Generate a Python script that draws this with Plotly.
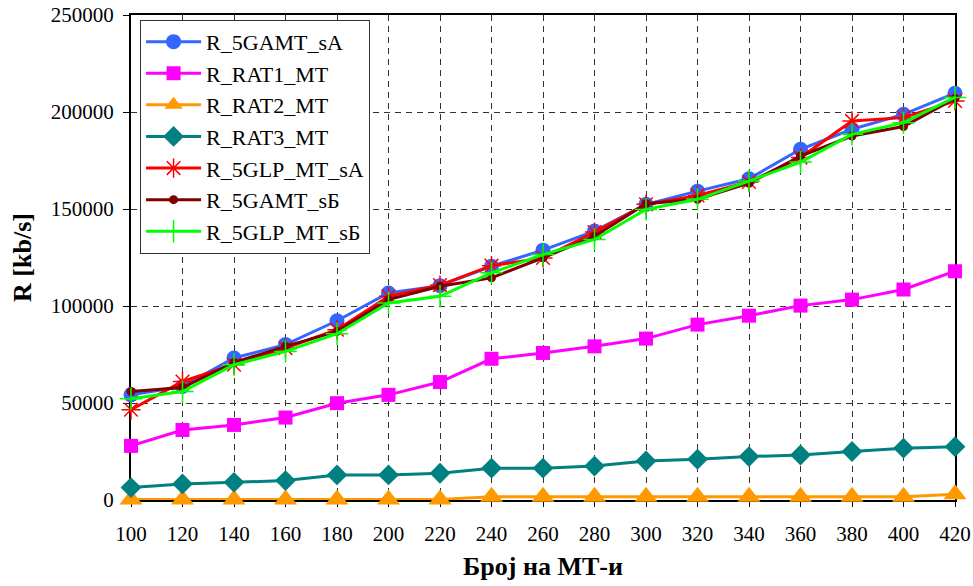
import plotly.graph_objects as go

x_vals = [100, 120, 140, 160, 180, 200, 220, 240, 260, 280, 300, 320, 340, 360, 380, 400, 420]

r_5gamt_sa = [54200, 58500, 73200, 80100, 92400, 106700, 110500, 120500, 128800, 138600,
              152400, 159200, 165600, 180800, 191100, 198800, 209700]
r_rat1_mt = [27900, 36100, 38700, 42500, 49900, 54200, 60800, 72800, 75800, 79200,
             83200, 90400, 95000, 100200, 103300, 108500, 117900]
r_rat2_mt = [300, 300, 300, 300, 300, 300, 300, 1700, 1700, 1700,
             1700, 1700, 1700, 1700, 1700, 1700, 3000]
r_rat3_mt = [6400, 8300, 9100, 10000, 12900, 12900, 13800, 16400, 16400, 17500,
             20100, 21000, 22400, 23200, 25000, 26700, 27500]
r_5glp_mt_sa = [46500, 61100, 69700, 78300, 87800, 105000, 110800, 120800, 124800, 138100,
                152400, 157000, 163900, 176500, 195400, 197100, 205700]
r_5gamt_sb = [55900, 58000, 70900, 79200, 86900, 103300, 110200, 114500, 124800, 136000,
              152700, 155000, 163300, 177300, 187600, 192500, 207000]
r_5glp_mt_sb = [52200, 55900, 69700, 76600, 85700, 101600, 105000, 117100, 126500, 134300,
                149800, 155000, 164400, 174200, 188500, 194500, 207500]

y_ticks = [0, 50000, 100000, 150000, 200000, 250000]

series = [
    ("R_5GAMT_sA", r_5gamt_sa, "#3366FF", dict(symbol="circle", size=15)),
    ("R_RAT1_MT", r_rat1_mt, "#FF00FF", dict(symbol="square", size=14)),
    ("R_RAT2_MT", r_rat2_mt, "#FF9900", dict(symbol="triangle-up", size=20)),
    ("R_RAT3_MT", r_rat3_mt, "#008080", dict(symbol="diamond", size=16)),
    ("R_5GLP_MT_sA", r_5glp_mt_sa, "#FF0000", dict(symbol="asterisk-open", size=16,
                                                   line=dict(color="#FF0000", width=1.5))),
    ("R_5GAMT_sБ", r_5gamt_sb, "#800000", dict(symbol="circle", size=9)),
    ("R_5GLP_MT_sБ", r_5glp_mt_sb, "#00FF00", dict(symbol="cross-thin-open", size=16,
                                                   line=dict(color="#00FF00", width=1.5))),
]

fig = go.Figure()
for name, vals, color, mk in series:
    marker = dict(color=color, **mk)
    fig.add_trace(go.Scatter(
        x=x_vals, y=vals, name=name, mode="lines+markers",
        line=dict(color=color, width=3),
        marker=marker, cliponaxis=False,
    ))

font_family = "Times New Roman, Liberation Serif, serif"

fig.update_layout(
    width=973, height=586,
    margin=dict(l=131, r=18, t=15, b=86),
    paper_bgcolor="white", plot_bgcolor="white",
    font=dict(family=font_family, size=21, color="black"),
    showlegend=True,
    legend=dict(
        x=0.011, y=0.99, xanchor="left", yanchor="top",
        bgcolor="white", bordercolor="#333333", borderwidth=1,
        font=dict(family=font_family, size=22, color="black"),
        itemwidth=55, tracegroupgap=0,
    ),
    xaxis=dict(
        range=[100, 420], tickvals=x_vals, ticktext=[str(v) for v in x_vals],
        showline=True, linecolor="black", linewidth=2, mirror=True,
        ticks="outside", ticklen=5, tickcolor="black", layer="below traces",
        showgrid=True, gridcolor="#333333", gridwidth=1, griddash="6px,5px",
        zeroline=False, automargin=False, ticklabelstandoff=9,
        tickfont=dict(family=font_family, size=21),
        title=dict(text="<b>Број на МТ-и</b>", font=dict(family=font_family, size=26), standoff=12),
    ),
    yaxis=dict(
        range=[0, 250000], tickvals=y_ticks, ticktext=[str(v) for v in y_ticks],
        showline=True, linecolor="black", linewidth=2, mirror=True,
        ticks="outside", ticklen=6, tickcolor="black", layer="below traces",
        showgrid=True, gridcolor="#333333", gridwidth=1, griddash="6px,5px",
        zeroline=False, automargin=False, ticklabelstandoff=5,
        tickfont=dict(family=font_family, size=21),
        title=dict(text="<b>R [kb/s]</b>", font=dict(family=font_family, size=26), standoff=12),
    ),
)

fig.write_html("out.html")
